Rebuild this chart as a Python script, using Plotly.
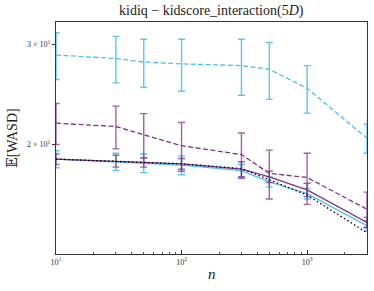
import numpy as np
import plotly.graph_objects as go

n = [10, 30, 50, 100, 300, 500, 1000, 3000]

cyan_dash = [28.7, 28.3, 27.9, 27.7, 27.5, 27.1, 25.1, 20.5]
cyan_dash_err = [2.7, 2.65, 2.7, 2.9, 3.1, 3.1, 2.4, 1.2]

purple_dash = [21.8, 21.5, 20.8, 19.9, 19.2, 17.8, 17.5, 15.4]
purple_dash_err = [1.8, 1.85, 1.85, 1.95, 1.75, 1.75, 1.8, 1.1]

cyan_solid = [18.85, 18.65, 18.55, 18.4, 18.0, 17.2, 16.4, 14.4]
cyan_solid_err = [0.65, 0.65, 0.7, 0.7, 0.45, 0.35, 0.35, 0.3]

purple_solid = [18.85, 18.7, 18.6, 18.5, 18.1, 17.55, 16.65, 14.6]
purple_solid_err = [0.4, 0.45, 0.35, 0.4, 0.55, 0.4, 0.45, 0.3]

black_dotted = [18.85, 18.7, 18.6, 18.5, 18.15, 17.35, 16.3, 14.0]

x_ticks = [10, 100, 1000]
x_ticktext = ["10<sup>1</sup>", "10<sup>2</sup>", "10<sup>3</sup>"]
y_ticks = [20, 30]
y_ticktext = ["2 × 10<sup>1</sup>", "3 × 10<sup>1</sup>"]

CYAN = "#4DBEEE"
PURPLE = "#7E2F8E"
CYAN_E = "rgba(77,190,238,0.9)"
PURPLE_E = "rgba(126,47,142,0.75)"

fig = go.Figure()

def add(y, err, color, ecolor, dash, name):
    kw = {}
    if err is not None:
        kw["error_y"] = dict(type="data", array=err, visible=True,
                             color=ecolor, thickness=1.4, width=3.5)
    fig.add_trace(go.Scatter(
        x=n, y=y, mode="lines", name=name,
        line=dict(color=color, width=1.3, dash=dash),
        showlegend=False, hoverinfo="skip", **kw,
    ))

add(cyan_solid, cyan_solid_err, CYAN, CYAN_E, "solid", "cyan solid")
add(purple_solid, purple_solid_err, PURPLE, PURPLE_E, "solid", "purple solid")
add(black_dotted, None, "black", None, "1.5px,2.5px", "reference")
add(purple_dash, purple_dash_err, PURPLE, PURPLE_E, "5px,2.5px", "purple dashed")
add(cyan_dash, cyan_dash_err, CYAN, CYAN_E, "5px,2.5px", "cyan dashed")

serif = "Liberation Serif, DejaVu Serif, serif"
minor_x = [20, 30, 40, 50, 60, 70, 80, 90, 200, 300, 400, 500, 600, 700, 800, 900, 2000, 3000]

L, R, T, B = 56, 7, 22, 37
PW = 374 - L - R
PH = 291 - T - B

fig.update_layout(
    width=374, height=291,
    margin=dict(l=L, r=R, t=T, b=B, autoexpand=False),
    paper_bgcolor="white", plot_bgcolor="white",
    font=dict(family=serif, color="#222"),
    xaxis=dict(type="log", range=[1, np.log10(3000)], automargin=False,
               tickmode="array", tickvals=x_ticks, ticktext=x_ticktext,
               ticks="inside", ticklen=4, tickwidth=1, tickcolor="#333",
               showgrid=False, zeroline=False,
               showline=True, linecolor="#333", linewidth=1, mirror=True,
               tickfont=dict(size=8, family=serif, color="#333"),
               minor=dict(tickvals=minor_x, ticks="inside", ticklen=2, tickcolor="#555", showgrid=False)),
    yaxis=dict(type="log", range=[np.log10(12.85), np.log10(32.8)], automargin=False,
               tickmode="array", tickvals=y_ticks, ticktext=y_ticktext,
               ticks="outside", ticklen=3, tickwidth=1, tickcolor="#333",
               showgrid=False, zeroline=False,
               showline=True, linecolor="#333", linewidth=1, mirror=True,
               tickfont=dict(size=8, family=serif, color="#333")),
    annotations=[
        dict(text="kidiq − kidscore_interaction(5<i>D</i>)", xref="paper", yref="paper",
             x=0.5, y=1 + 11 / PH, xanchor="center", yanchor="middle", showarrow=False,
             font=dict(size=14, family=serif, color="#222")),
        dict(text="<i>n</i>", xref="paper", yref="paper", x=0.5, y=-20 / PH,
             xanchor="center", yanchor="middle", showarrow=False,
             font=dict(size=15, family=serif, color="#222")),
        dict(text="𝔼[WASD]", xref="paper", yref="paper", x=-(L - 12) / PW, y=0.5,
             xanchor="center", yanchor="middle", textangle=-90, showarrow=False,
             font=dict(size=14, family=serif, color="#222")),
    ],
)

fig.write_html("out.html", config={"displayModeBar": False},
               post_script="document.body.style.margin='0';document.body.style.overflow='hidden';")
